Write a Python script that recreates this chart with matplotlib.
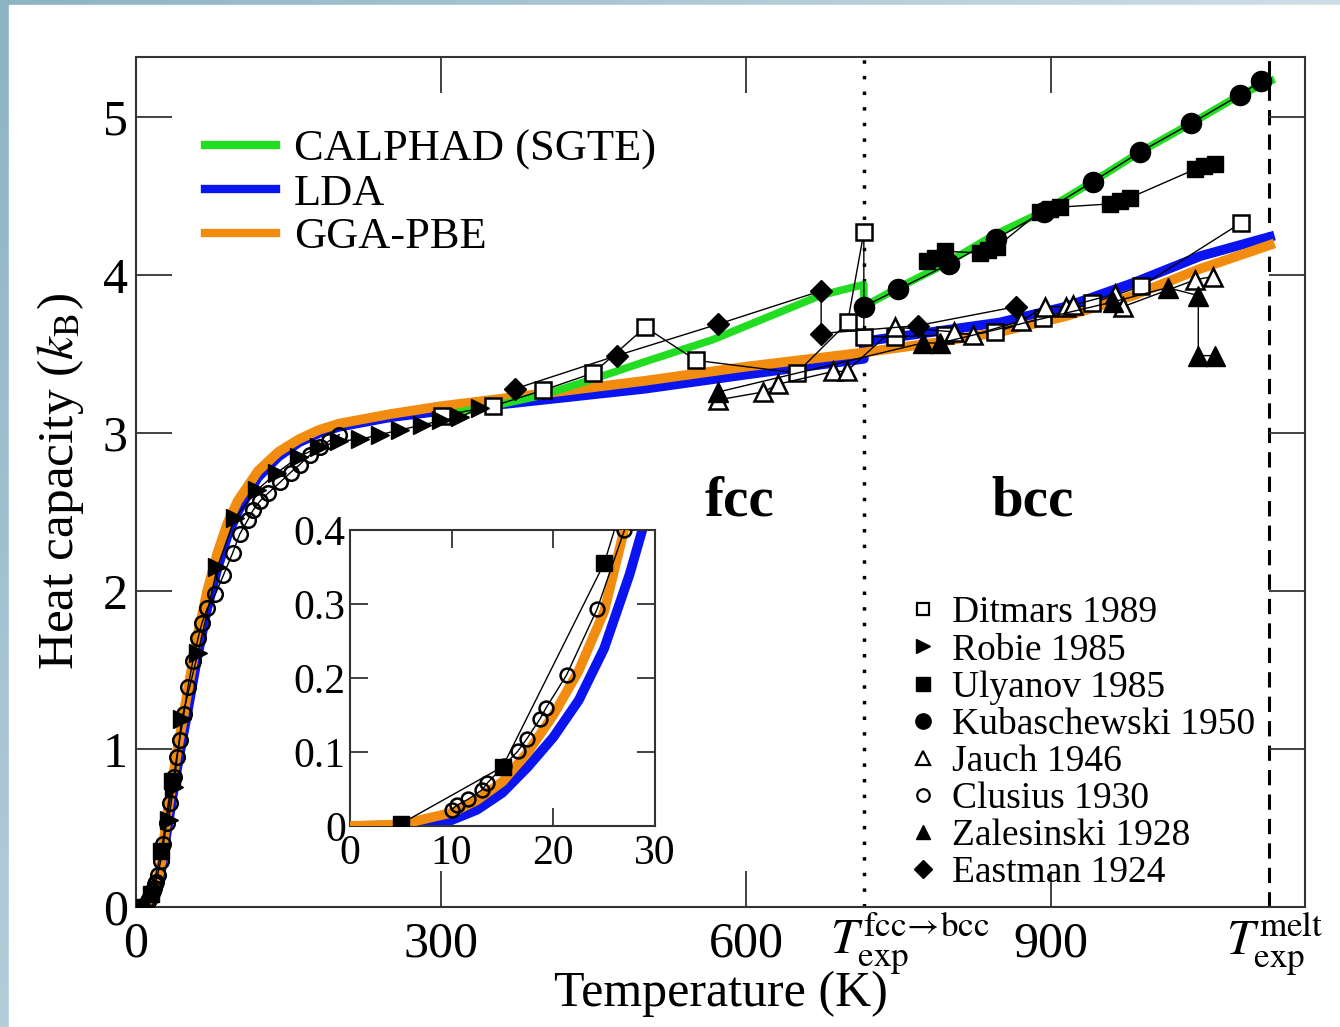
import numpy as np
import matplotlib
matplotlib.use("Agg")
import matplotlib.pyplot as plt
from matplotlib.lines import Line2D
from matplotlib.patches import Rectangle
from matplotlib.colors import LinearSegmentedColormap

plt.rcParams['font.family'] = ['Liberation Serif', 'DejaVu Serif']
plt.rcParams['mathtext.fontset'] = 'stix'

# ---- theory curves (K, k_B) ----
calphad_T = [298, 350, 400, 449, 500, 567, 620, 673, 716,
             716, 747, 796, 843, 892, 941, 988, 1038, 1086, 1120]
calphad_C = [3.11, 3.17, 3.24, 3.34, 3.45, 3.59, 3.73, 3.87, 3.94,
             3.80, 3.91, 4.07, 4.25, 4.40, 4.59, 4.78, 4.96, 5.14, 5.24]

lda_T = [0, 5, 10, 12.5, 15, 17.5, 20, 22.5, 25, 27.5, 30, 35, 40, 45, 50,
         55, 60, 70, 80, 90, 100, 120, 140, 160, 180, 200, 250, 300, 400,
         500, 600, 716,
         716, 784, 850, 915, 981, 1047, 1120]
lda_C = [0, 0.001, 0.008, 0.022, 0.045, 0.08, 0.12, 0.17, 0.24, 0.34, 0.46,
         0.66, 0.86, 1.04, 1.21, 1.39, 1.57, 1.89, 2.14, 2.35, 2.50, 2.72,
         2.85, 2.94, 3.00, 3.04, 3.10, 3.14, 3.21, 3.28, 3.37, 3.47,
         3.58, 3.64, 3.70, 3.80, 3.95, 4.12, 4.25]

gga_T = [0, 5, 10, 12.5, 15, 17.5, 20, 22.5, 25, 27.5, 30, 35, 40, 45, 50,
         55, 60, 70, 80, 90, 100, 120, 140, 160, 180, 200, 250, 300, 400,
         500, 600, 716,
         784, 850, 915, 981, 1047, 1120]
gga_C = [0, 0.002, 0.018, 0.035, 0.06, 0.10, 0.15, 0.21, 0.29, 0.43, 0.56,
         0.77, 0.97, 1.15, 1.34, 1.52, 1.70, 2.00, 2.24, 2.43, 2.57, 2.76,
         2.88, 2.96, 3.02, 3.06, 3.12, 3.17, 3.25, 3.33, 3.42, 3.51,
         3.57, 3.64, 3.74, 3.87, 4.04, 4.20]

# ---- experiments ----
ditmars_T = [301, 351, 400, 450, 501, 551, 650, 700, 716, 716, 747, 796, 845,
             892, 940, 989, 1087]
ditmars_C = [3.11, 3.17, 3.27, 3.38, 3.67, 3.46, 3.38, 3.70, 4.27, 3.61, 3.61,
             3.62, 3.64, 3.73, 3.82, 3.93, 4.33]

robie_T = [32, 37, 45, 61, 80, 97, 119, 139, 160, 180, 200, 220, 240, 260,
           281, 300, 319, 338]
robie_C = [0.55, 0.76, 1.19, 1.61, 2.15, 2.46, 2.64, 2.75, 2.85, 2.91, 2.95,
           2.96, 2.99, 3.02, 3.05, 3.08, 3.10, 3.16]

ulyanov_low_T = [5, 15, 25, 35]
ulyanov_low_C = [0.003, 0.08, 0.355, 0.80]
ulyanov_T = [778, 786, 796, 830, 838, 847, 889, 899, 909, 958, 968, 978,
             1042, 1051, 1061]
ulyanov_C = [4.09, 4.11, 4.15, 4.14, 4.16, 4.18, 4.40, 4.42, 4.43, 4.45, 4.47,
             4.49, 4.67, 4.69, 4.70]

kuba_T = [716, 750, 800, 846, 893, 941, 988, 1038, 1086, 1107]
kuba_C = [3.80, 3.91, 4.07, 4.23, 4.40, 4.59, 4.78, 4.96, 5.14, 5.23]

jauch_T = [573, 617, 632, 686, 699, 747, 805, 823, 871, 894, 915, 922, 963,
           971, 1042, 1059]
jauch_C = [3.21, 3.26, 3.31, 3.39, 3.39, 3.67, 3.64, 3.62, 3.71, 3.80, 3.80,
           3.81, 3.88, 3.80, 3.97, 3.99]

clusius_T = [10.0, 10.5, 11.6, 13.0, 13.5, 15.1, 16.5, 17.4, 18.7, 19.3, 21.3,
             24.3, 27, 30, 33, 37, 40, 43, 47, 51, 56, 61, 65, 70, 78, 86, 95,
             102, 110, 115, 122, 130, 142, 152, 161, 171, 181, 190, 200]
clusius_C = [0.022, 0.028, 0.036, 0.049, 0.058, 0.081, 0.101, 0.118, 0.145,
             0.160, 0.204, 0.293, 0.40, 0.53, 0.66, 0.82, 0.95, 1.06, 1.22,
             1.39, 1.56, 1.70, 1.80, 1.89, 1.98, 2.10, 2.24, 2.36, 2.45, 2.51,
             2.57, 2.62, 2.69, 2.75, 2.80, 2.86, 2.91, 2.95, 2.99]

zal_T = [573, 774, 791, 961, 1015, 1045, 1045, 1061]
zal_C = [3.26, 3.57, 3.57, 3.83, 3.92, 3.87, 3.49, 3.49]

eastman_T = [373, 473, 573, 674, 674, 769, 866]
eastman_C = [3.28, 3.49, 3.69, 3.90, 3.63, 3.68, 3.80]

T_trans = 716
T_melt = 1115

GREEN = '#22dd22'
BLUE = '#0a14f0'
ORANGE = '#f28c0f'

fig = plt.figure(figsize=(13.4, 10.27), dpi=100)

# slide background strip
bg = fig.add_axes([0, 0, 1, 1], zorder=-5)
bg.axis('off')
cmap = LinearSegmentedColormap.from_list('bg', ['#8db3c5', '#dbe7ee'])
gx, gy = np.meshgrid(np.linspace(0, 1, 200), np.linspace(0, 1, 200))
bg.imshow(np.hypot(gx, gy * 0.6), cmap=cmap, extent=[0, 1, 0, 1],
          aspect='auto', vmin=0, vmax=1.2)
bg.add_patch(Rectangle((9 / 1340, 0), 1, 1 - 5 / 1027, color='white'))
bg.set_xlim(0, 1)
bg.set_ylim(0, 1)

ax = fig.add_axes([0.1015, 0.1168, 0.8724, 0.8277])


def draw_data(a, ms_scale=1.0):
    kw = dict(color='k', lw=1.0, zorder=5)
    a.plot(ditmars_T, ditmars_C, marker='s', ms=11 * ms_scale, mfc='white',
           mew=1.8, **kw)
    a.plot(robie_T, robie_C, marker='>', ms=13 * ms_scale, **kw)
    a.plot(ulyanov_low_T, ulyanov_low_C, marker='s', ms=12 * ms_scale, **kw)
    a.plot(ulyanov_T, ulyanov_C, marker='s', ms=12 * ms_scale, **kw)
    a.plot(kuba_T, kuba_C, marker='o', ms=14.5 * ms_scale, **kw)
    a.plot(jauch_T, jauch_C, marker='^', ms=13 * ms_scale, mfc='white',
           mew=1.8, **kw)
    a.plot(clusius_T, clusius_C, marker='o', ms=10.5 * ms_scale, mfc='none',
           mew=1.8, **kw)
    a.plot(zal_T, zal_C, marker='^', ms=14 * ms_scale, **kw)
    a.plot(eastman_T, eastman_C, marker='D', ms=11 * ms_scale, **kw)


ax.plot(lda_T, lda_C, color=BLUE, lw=7, solid_capstyle='butt', zorder=2)
ax.plot(gga_T, gga_C, color=ORANGE, lw=7, solid_capstyle='butt', zorder=3)
ax.plot(calphad_T, calphad_C, color=GREEN, lw=5.5, solid_capstyle='butt',
        zorder=4)
draw_data(ax)

ax.axvline(T_trans, color='k', ls=(0, (1, 3.5)), lw=2.5, zorder=1)
ax.axvline(T_melt, color='k', ls=(0, (5, 3)), lw=2.2, zorder=1)

ax.set_xlim(0, 1150)
ax.set_ylim(0, 5.38)
ax.set_xticks([0, 300, 600, 900])
ax.set_yticks([0, 1, 2, 3, 4, 5])
ax.tick_params(direction='in', length=26, width=1.3, labelsize=36,
               top=True, right=True, color='#333333')
ax.tick_params(axis='x', pad=10)
ax.tick_params(axis='y', pad=6)
for s in ax.spines.values():
    s.set_linewidth(1.5)
    s.set_color('#333333')

ax.set_xlabel('Temperature (K)', fontsize=36, labelpad=2)
ax.set_ylabel(r'Heat capacity ($k_{\rm B}$)', fontsize=37, labelpad=12)

tx = ax.get_xaxis_transform()
ax.text(T_trans + 45, -0.056, r'$T_{\rm exp}^{\rm fcc\!\rightarrow\!bcc}$',
        transform=tx, ha='center', va='baseline', fontsize=36)
ax.text(T_melt + 5, -0.056, r'$T_{\rm exp}^{\rm melt}$',
        transform=tx, ha='center', va='baseline', fontsize=36)

ax.text(594, 2.48, 'fcc', fontsize=41, fontweight='bold', ha='center',
        va='baseline')
ax.text(882, 2.48, 'bcc', fontsize=41, fontweight='bold', ha='center',
        va='baseline')

# method legend
method_handles = [Line2D([], [], color=GREEN, lw=6),
                  Line2D([], [], color=BLUE, lw=6),
                  Line2D([], [], color=ORANGE, lw=6)]
leg1 = ax.legend(method_handles, ['CALPHAD (SGTE)', 'LDA', 'GGA-PBE'],
                 loc='upper left', bbox_to_anchor=(0.059, 0.915),
                 frameon=False, fontsize=32, handlelength=1.6,
                 handletextpad=0.4, labelspacing=0.08, borderpad=0,
                 borderaxespad=0)
ax.add_artist(leg1)

# data legend
exp_handles = [
    Line2D([], [], ls='none', marker='s', color='k', mfc='white', mew=1.6, ms=9),
    Line2D([], [], ls='none', marker='>', color='k', ms=10),
    Line2D([], [], ls='none', marker='s', color='k', ms=10),
    Line2D([], [], ls='none', marker='o', color='k', ms=11),
    Line2D([], [], ls='none', marker='^', color='k', mfc='white', mew=1.6, ms=10),
    Line2D([], [], ls='none', marker='o', color='k', mfc='white', mew=1.6, ms=9),
    Line2D([], [], ls='none', marker='^', color='k', ms=10),
    Line2D([], [], ls='none', marker='D', color='k', ms=9),
]
exp_labels = ['Ditmars 1989', 'Robie 1985', 'Ulyanov 1985', 'Kubaschewski 1950',
              'Jauch 1946', 'Clusius 1930', 'Zalesinski 1928', 'Eastman 1924']
ax.legend(exp_handles, exp_labels, loc='upper left',
          bbox_to_anchor=(0.664, 0.366), frameon=False, fontsize=27,
          handlelength=0.6, handletextpad=0.45, labelspacing=0.07,
          borderpad=0, borderaxespad=0)

# inset
ins = fig.add_axes([0.2612, 0.1957, 0.2276, 0.2882])
ins.plot(lda_T, lda_C, color=BLUE, lw=7, solid_capstyle='butt', zorder=2)
ins.plot(gga_T, gga_C, color=ORANGE, lw=7, solid_capstyle='butt', zorder=3)
draw_data(ins, ms_scale=0.95)
ins.set_xlim(0, 30)
ins.set_ylim(0, 0.4)
ins.set_xticks([0, 10, 20, 30])
ins.set_yticks([0, 0.1, 0.2, 0.3, 0.4])
ins.set_yticklabels(['0', '0.1', '0.2', '0.3', '0.4'])
ins.tick_params(direction='in', length=13, width=1.3, labelsize=30,
                top=True, right=True, color='#333333')
ins.tick_params(axis='x', pad=6)
ins.tick_params(axis='y', pad=3)
for s in ins.spines.values():
    s.set_linewidth(1.5)
    s.set_color('#333333')

fig.savefig('out.png', dpi=100)
